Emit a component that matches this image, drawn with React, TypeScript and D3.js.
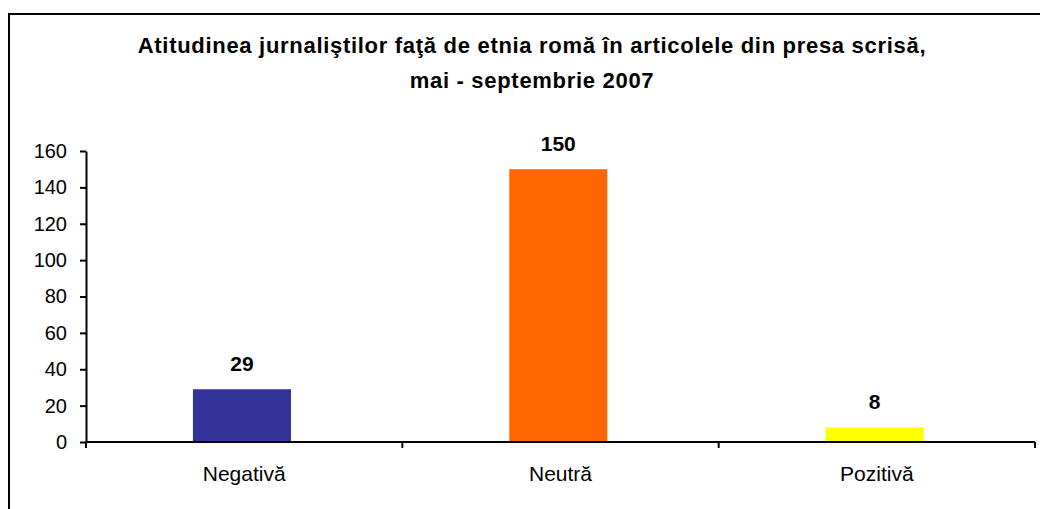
import React, { useRef, useEffect } from 'react';
import * as d3 from 'd3';

const categories = ['Negativă', 'Neutră', 'Pozitivă'];
const values = [29, 150, 8];
const barColors = ['#333399', '#FF6600', '#FFFF00'];
const yTicks = [0, 20, 40, 60, 80, 100, 120, 140, 160];
const titleLines = [
  'Atitudinea jurnaliştilor faţă de etnia romă în articolele din presa scrisă,',
  'mai - septembrie 2007',
];

export default function App() {
  const svgRef = useRef<SVGSVGElement>(null);
  const width = 1040;
  const height = 509;
  const margin = { top: 151, bottom: 67, left: 86, right: 5 };
  const font = 'Liberation Sans, Arial, sans-serif';

  useEffect(() => {
    const svg = d3.select(svgRef.current);
    svg.selectAll('*').remove();

    const bounds = d3.scaleBand()
      .domain(categories)
      .range([margin.left, width - margin.right]);

    const y = d3.scaleLinear()
      .domain([0, 160])
      .range([height - margin.bottom, margin.top]);

    const barX = (c: string) => bounds(c)! + bounds.bandwidth() * 0.338;
    const barW = bounds.bandwidth() * 0.31;

    svg.append('rect')
      .attr('x', 9).attr('y', 14)
      .attr('width', 1060).attr('height', 520)
      .attr('fill', 'white')
      .attr('stroke', '#000').attr('stroke-width', 2);

    const title = svg.append('text')
      .attr('text-anchor', 'middle')
      .attr('font-family', font)
      .attr('font-weight', 'bold')
      .attr('font-size', 22)
      .attr('letter-spacing', 0.7);
    titleLines.forEach((t, i) => {
      title.append('tspan').attr('x', 532).attr('y', 53 + i * 35).text(t);
    });

    // bars
    svg.append('g').selectAll('rect')
      .data(values)
      .join('rect')
      .attr('x', (d, i) => barX(categories[i]))
      .attr('y', d => y(d))
      .attr('width', barW)
      .attr('height', d => y(0) - y(d))
      .attr('fill', (d, i) => barColors[i]);

    svg.append('g').selectAll('text')
      .data(values)
      .join('text')
      .attr('x', (d, i) => barX(categories[i]) + barW / 2)
      .attr('y', d => y(d) - 18)
      .attr('text-anchor', 'middle')
      .attr('font-family', font)
      .attr('font-weight', 'bold')
      .attr('font-size', 21)
      .text(d => d);

    // y axis
    const yAxis = svg.append('g')
      .attr('transform', `translate(${margin.left},0)`)
      .call(d3.axisLeft(y).tickValues(yTicks).tickSize(6).tickPadding(13).tickSizeOuter(0));
    yAxis.select('.domain').attr('stroke', '#000').attr('stroke-width', 2);
    yAxis.selectAll('.tick line').attr('stroke', '#000').attr('stroke-width', 2);
    yAxis.selectAll('.tick text')
      .attr('font-family', font)
      .attr('font-size', 20)
      .attr('fill', '#000');

    // x axis
    const xg = svg.append('g').attr('transform', `translate(0,${y(0)})`);
    xg.append('line')
      .attr('x1', margin.left).attr('x2', width - margin.right)
      .attr('stroke', '#000').attr('stroke-width', 2);
    const edges = [...categories.map(c => bounds(c)!), width - margin.right];
    xg.selectAll('line.tk')
      .data(edges)
      .join('line')
      .attr('class', 'tk')
      .attr('x1', d => d).attr('x2', d => d)
      .attr('y1', 0).attr('y2', 6)
      .attr('stroke', '#000').attr('stroke-width', 2);
    xg.selectAll('text')
      .data(categories)
      .join('text')
      .attr('x', d => bounds(d)! + bounds.bandwidth() / 2)
      .attr('y', 39)
      .attr('text-anchor', 'middle')
      .attr('font-family', font)
      .attr('font-size', 21)
      .text(d => d);
  }, []);

  return (
    <svg ref={svgRef} width={width} height={height}
      style={{ position: 'absolute', left: 0, top: 0, background: 'white' }} />
  );
}
